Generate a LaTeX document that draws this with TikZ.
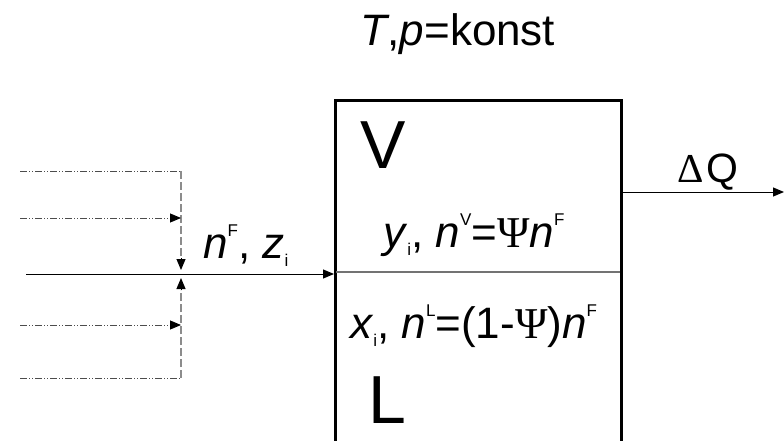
\documentclass[tikz,border=0pt]{standalone}
\usepackage{fontspec}
\setmainfont{Liberation Sans}
\newfontfamily\symf{Liberation Serif}
\usetikzlibrary{arrows.meta}
\newcommand\myup[1]{\raisebox{0.5em}{\fontsize{17}{17}\selectfont #1}}
\newcommand\mydn[1]{\raisebox{-0.2em}{\fontsize{17}{17}\selectfont #1}}
\begin{document}
\begin{tikzpicture}[x=1pt,y=-1pt,
  tri/.style={-{Triangle[length=11pt,width=9pt]}},
  feedh/.style={draw=black!70, line width=0.9pt, dash pattern=on 7pt off 2pt on 1pt off 2pt on 1pt off 2pt},
  feedv/.style={draw=black!45, line width=1.3pt, dash pattern=on 8pt off 3pt},
  lbl/.style={inner sep=0pt, anchor=base west, font=\fontsize{44}{44}\selectfont},
  big/.style={inner sep=0pt, anchor=base west, font=\fontsize{68}{68}\selectfont}]
\useasboundingbox (0,0) rectangle (784,441);
% box
\coordinate (bl) at (335,441);
\coordinate (tl) at (335,101);
\coordinate (tr) at (621,101);
\coordinate (br) at (621,441);
\draw[line width=3pt] (bl) -- (tl) -- (tr) -- (br);
\coordinate (dl) at (336,272);
\coordinate (dr) at (620,272);
\draw[black!55, line width=1.3pt] (dl) -- (dr);
% main feed
\coordinate (fs) at (26,274);
\coordinate (fe) at (334,274);
\draw[tri, line width=1pt] (fs) -- (fe);
% upper feed
\coordinate (u0) at (20,171);
\coordinate (u1) at (181,171);
\coordinate (u2) at (181,270);
\coordinate (um0) at (20,218);
\coordinate (um1) at (181,218);
\draw[feedh] (u0) -- (u1);
\draw[feedv] (u1) -- (181,258);
\draw[-{Triangle[length=11pt,width=9pt]}, line width=1pt] (181,258) -- (u2);
\draw[feedh] (um0) -- (171,218);
\draw[-{Triangle[length=11pt,width=9pt]}, line width=0.9pt] (171,218) -- (um1);
% lower feed
\coordinate (l0) at (20,378);
\coordinate (l1) at (181,378);
\coordinate (l2) at (181,278);
\coordinate (lm0) at (20,325);
\coordinate (lm1) at (181,325);
\draw[feedh] (l0) -- (l1);
\draw[feedv] (l1) -- (181,290);
\draw[-{Triangle[length=11pt,width=9pt]}, line width=1pt] (181,290) -- (l2);
\draw[feedh] (lm0) -- (171,325);
\draw[-{Triangle[length=11pt,width=9pt]}, line width=0.9pt] (171,325) -- (lm1);
% heat
\coordinate (qs) at (622,192);
\coordinate (qe) at (784,192);
\draw[tri, line width=1pt] (qs) -- (qe);
% labels
\node[inner sep=0pt, anchor=base, font=\fontsize{44}{44}\selectfont] (title) at (458,46) {\textit{T},\textit{p}=konst};
\node[lbl, font=\fontsize{41}{41}\selectfont] (dq) at (677,182) {{\symf Δ}\kern3pt Q};
\node[big] (V) at (360,168) {V};
\node[big] (L) at (368,423) {L};
\node[lbl] (nf) at (203,258) {\textit{n}\myup{F}, \textit{z}\mydn{i}};
\node[lbl] (vap) at (383,247) {\textit{y}\mydn{i}, \textit{n}\myup{V}={\symf Ψ}\textit{n}\myup{F}};
\node[lbl] (liq) at (350,338) {\textit{x}\mydn{i}, \textit{n}\myup{L}=(1-{\symf Ψ})\textit{n}\myup{F}};
\end{tikzpicture}
\end{document}
